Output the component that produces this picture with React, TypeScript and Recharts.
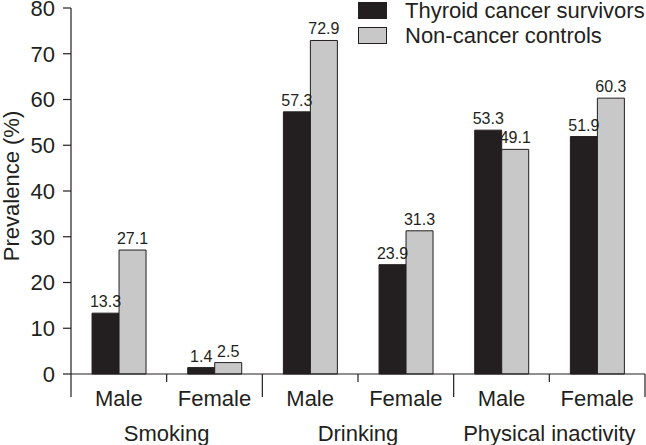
import { BarChart, Bar, XAxis, YAxis, LabelList } from "recharts";

const categories = ["Male", "Female", "Male", "Female", "Male", "Female"];
const groups = ["Smoking", "Drinking", "Physical inactivity"];
const survivors = [13.3, 1.4, 57.3, 23.9, 53.3, 51.9];
const controls = [27.1, 2.5, 72.9, 31.3, 49.1, 60.3];
const yTicks = [0, 10, 20, 30, 40, 50, 60, 70, 80];

const INK = "#231f20";
const FONT = "'Liberation Sans', Arial, Helvetica, sans-serif";

const data = categories.map((c, i) => ({
  name: c,
  survivors: survivors[i],
  controls: controls[i],
}));

const W = 646;
const H = 445;
const LEFT = 71;
const RIGHT = 1;
const band = (W - LEFT - RIGHT) / categories.length;

function XTick(props: any) {
  const { x, y, index, payload } = props;
  const left = x - band / 2;
  const right = x + band / 2;
  const groupStart = index % 2 === 0;
  return (
    <g>
      <line x1={left} x2={left} y1={y} y2={groupStart ? y + 23 : y + 8} stroke={INK} strokeWidth={1.2} />
      {index === categories.length - 1 && (
        <line x1={right} x2={right} y1={y} y2={y + 23} stroke={INK} strokeWidth={1.2} />
      )}
      <text x={x} y={y + 32} textAnchor="middle" fontSize={22} fill={INK} fontFamily={FONT}>
        {payload.value}
      </text>
      {index % 2 === 1 && (
        <text x={left} y={y + 67} textAnchor="middle" fontSize={22} fill={INK} fontFamily={FONT}>
          {groups[(index - 1) / 2]}
        </text>
      )}
    </g>
  );
}

function YTitle() {
  return (
    <text
      transform="translate(19, 186) rotate(-90)"
      textAnchor="middle"
      fontSize={22}
      fill={INK}
      fontFamily={FONT}
    >
      Prevalence (%)
    </text>
  );
}

function Legend() {
  const rows = [
    { label: "Thyroid cancer survivors", fill: INK },
    { label: "Non-cancer controls", fill: "#c8c8c8" },
  ];
  return (
    <div style={{ position: "absolute", left: 358, top: -2, fontFamily: FONT, color: INK }}>
      {rows.map((r) => (
        <div key={r.label} style={{ display: "flex", alignItems: "center", height: 25 }}>
          <div
            style={{
              width: 27,
              height: 15,
              background: r.fill,
              border: `1px solid ${INK}`,
              marginRight: 18,
            }}
          />
          <span style={{ fontSize: 22, lineHeight: "25px" }}>{r.label}</span>
        </div>
      ))}
    </div>
  );
}

export default function App() {
  return (
    <div style={{ position: "absolute", left: 0, top: 0, width: W, height: H, background: "#fff" }}>
      <BarChart
        width={W}
        height={H}
        data={data}
        margin={{ top: 8, right: RIGHT, bottom: 0, left: 0 }}
        barCategoryGap="22%"
        barGap={0}
      >
        <XAxis
          dataKey="name"
          height={71}
          tickLine={false}
          tickSize={0}
          tickMargin={0}
          interval={0}
          axisLine={{ stroke: INK, strokeWidth: 1.2 }}
          tick={<XTick />}
        />
        <YAxis
          width={LEFT}
          domain={[0, 80]}
          ticks={yTicks}
          interval={0}
          tickSize={8}
          tickMargin={8}
          axisLine={{ stroke: INK, strokeWidth: 1.2 }}
          tickLine={{ stroke: INK, strokeWidth: 1.2 }}
          tick={{ fontSize: 22, fill: INK, fontFamily: FONT }}
          label={<YTitle />}
        />
        <Bar dataKey="survivors" fill={INK} stroke={INK} strokeWidth={1} isAnimationActive={false}>
          <LabelList dataKey="survivors" position="top" offset={6} fontSize={16} fill={INK} fontFamily={FONT} />
        </Bar>
        <Bar dataKey="controls" fill="#c8c8c8" stroke={INK} strokeWidth={1} isAnimationActive={false}>
          <LabelList dataKey="controls" position="top" offset={6} fontSize={16} fill={INK} fontFamily={FONT} />
        </Bar>
      </BarChart>
      <Legend />
    </div>
  );
}
